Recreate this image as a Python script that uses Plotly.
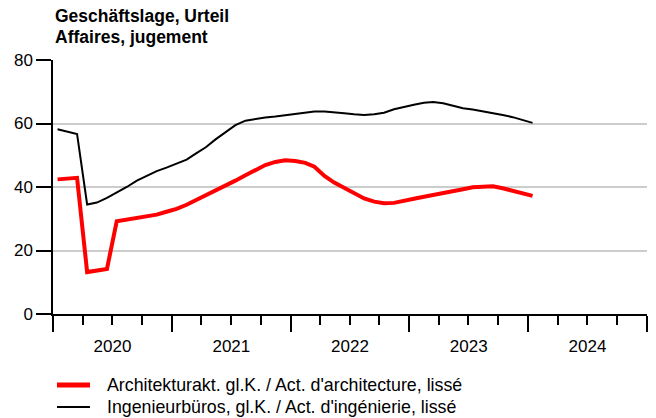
import pandas as pd
import plotly.graph_objects as go

# Monthly data, Jan 2020 .. Jan 2024 (plotted mid-month)
months = [f"{y}-{m:02d}-15" for y in range(2020, 2025) for m in range(1, 13)][:49]

architektur = [
    42.4, 42.6, 42.9, 13.2, 13.7, 14.2, 29.2, 29.7, 30.2, 30.7, 31.3, 32.2,
    33.1, 34.4, 35.8, 37.6, 38.9, 40.3, 42.0, 43.7, 45.4, 46.9, 47.9, 48.4,
    48.2, 47.6, 46.4, 43.5, 41.4, 39.6, 37.9, 36.4, 35.4, 34.9, 35.0, 35.5,
    36.3, 36.9, 37.4, 37.9, 38.6, 39.3, 39.9, 40.2, 40.2, 39.6, 38.8, 38.0,
    37.2,
]
ingenieur = [
    58.2, 57.4, 56.7, 34.5, 35.1, 36.6, 38.2, 40.0, 42.0, 43.6, 45.0, 46.1,
    47.4, 48.6, 50.5, 52.5, 55.0, 57.4, 59.5, 60.9, 61.5, 61.9, 62.2, 62.6,
    63.0, 63.5, 63.8, 63.8, 63.6, 63.2, 62.9, 62.7, 62.9, 63.4, 64.5, 65.3,
    65.9, 66.5, 66.8, 66.4, 65.6, 64.8, 64.4, 63.9, 63.3, 62.7, 62.0, 61.0,
    60.2,
]
series_names = [
    "Architekturakt. gl.K. / Act. d'architecture, lissé",
    "Ingenieurbüros, gl.K. / Act. d'ingénierie, lissé",
]
series_colors = ["#ff0000", "#000000"]
series_widths = [4, 2]
legend_widths = [5, 2]
title_lines = ["Geschäftslage, Urteil", "Affaires, jugement"]
y_ticks = [0, 20, 40, 60, 80]

FONT = "Liberation Sans, Arial, sans-serif"

fig = go.Figure()
for vals, name, col, w in zip([architektur, ingenieur], series_names,
                              series_colors, series_widths):
    fig.add_trace(go.Scatter(
        x=months, y=vals, mode="lines", name=name,
        line=dict(color=col, width=w), showlegend=False,
    ))

fig.update_layout(
    width=656, height=418,
    margin=dict(l=53, r=9, t=60, b=104, autoexpand=False),
    paper_bgcolor="white", plot_bgcolor="white",
    font=dict(family=FONT, size=17, color="black"),
    showlegend=False,
    xaxis=dict(
        type="date", range=["2020-01-01", "2025-01-01"],
        tick0="2020-01-01", dtick="M12", tickformat="%Y",
        ticklabelmode="period",
        showline=True, linecolor="black", linewidth=2,
        ticks="outside", ticklen=16, tickwidth=1.5, tickcolor="black",
        minor=dict(dtick="M3", ticks="outside", ticklen=9, tickwidth=1.5,
                   tickcolor="black", showgrid=False),
        showgrid=False, zeroline=False,
        tickfont=dict(size=17),
    ),
    yaxis=dict(
        range=[0, 80], tickvals=y_ticks,
        showline=True, linecolor="black", linewidth=1.5,
        ticks="outside", ticklen=15, tickwidth=1.5, tickcolor="black",
        showgrid=True, gridcolor="#cccccc", gridwidth=1.5,
        zeroline=False, tickfont=dict(size=17),
    ),
)

# title
for line, ypos in zip(title_lines, [1.173, 1.09]):
    fig.add_annotation(
        text=f"<b>{line}</b>", xref="paper", yref="paper",
        x=0, y=ypos, xanchor="left", yanchor="middle", showarrow=False,
        font=dict(size=17.5, family=FONT),
    )

# legend (drawn below the plot)
for name, col, w, ypos in zip(series_names, series_colors, legend_widths,
                              [-0.2795, -0.366]):
    fig.add_shape(
        type="line", xref="paper", yref="paper",
        x0=0.0067, x1=0.0623, y0=ypos, y1=ypos,
        line=dict(color=col, width=w),
    )
    fig.add_annotation(
        text=name, xref="paper", yref="paper",
        x=0.0875, y=ypos, xanchor="left", yanchor="middle", showarrow=False,
        font=dict(size=17.8, family=FONT),
    )

fig.write_html(
    "out.html",
    config={"displayModeBar": False},
    post_script="document.body.style.margin='0';",
)
